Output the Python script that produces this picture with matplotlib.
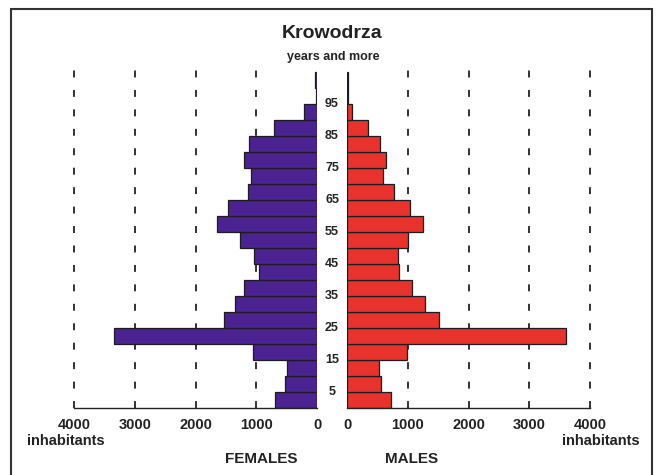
import matplotlib
matplotlib.use("Agg")
import matplotlib.pyplot as plt
import matplotlib.transforms as mtransforms
from matplotlib.patches import Rectangle

plt.rcParams['font.family'] = ['Liberation Sans', 'DejaVu Sans']
plt.rcParams['lines.scale_dashes'] = False

# age groups: lower bound of each 5-year bin (100 = "100 years and more")
age_start = [0, 5, 10, 15, 20, 25, 30, 35, 40, 45, 50, 55, 60, 65, 70, 75, 80, 85, 90, 95, 100]
females = [697, 522, 499, 1053, 3342, 1536, 1355, 1207, 960, 1032, 1267, 1646, 1470, 1136, 1081, 1207, 1119, 713, 210, 15, 25]
males = [718, 553, 520, 988, 3600, 1515, 1279, 1076, 862, 846, 1010, 1251, 1037, 778, 597, 634, 535, 345, 88, 10, 15]
age_labels = [5, 15, 25, 35, 45, 55, 65, 75, 85, 95]
x_ticks = [0, 1000, 2000, 3000, 4000]

W, H = 660, 475
fig = plt.figure(figsize=(W / 100, H / 100), dpi=100)

purple = '#4a2390'
red = '#e8322c'
edge = '#1e1a24'
txt = '#222222'

y_top = 106
ax_l = fig.add_axes([74 / W, 1 - 408 / H, 243 / W, (408 - 69) / H])
ax_r = fig.add_axes([347 / W, 1 - 408 / H, 243 / W, (408 - 69) / H])

for ax, vals, col in [(ax_l, females, purple), (ax_r, males, red)]:
    for g in [1000, 2000, 3000, 4000]:
        ax.axvline(g, color='#222222', lw=1.3, dashes=(5, 9), zorder=0, clip_on=False)
    ax.barh(age_start, vals, height=5, align='edge', color=col,
            edgecolor=edge, linewidth=0.9, zorder=2)
    ax.set_ylim(0, y_top)
    ax.set_xlim(0, 4000)
    ax.set_yticks([])
    ax.set_xticks(x_ticks)
    ax.set_xticklabels([str(t) for t in x_ticks], fontsize=10.5, fontweight='bold', color=txt)
    ax.tick_params(axis='x', length=0, pad=7)
    for s in ['left', 'right', 'top']:
        ax.spines[s].set_visible(False)
    ax.spines['bottom'].set_linewidth(1.0)
    ax.spines['bottom'].set_color('#222222')

ax_l.invert_xaxis()

# age labels between the two halves
trans = mtransforms.blended_transform_factory(fig.transFigure, ax_l.transData)
for a in age_labels:
    fig.text(332 / W, a, str(a), transform=trans, ha='center', va='center',
             fontsize=9, fontweight='bold', color=txt)

fig.text(332 / W, 1 - 33 / H, 'Krowodrza', ha='center', va='center',
         fontsize=14, fontweight='bold', color=txt)
fig.text(333 / W, 1 - 57 / H, 'years and more', ha='center', va='center',
         fontsize=9, fontweight='bold', color=txt)

fig.text(66 / W, 1 - 441 / H, 'inhabitants', ha='center', va='center',
         fontsize=10.5, fontweight='bold', color=txt)
fig.text(601 / W, 1 - 441 / H, 'inhabitants', ha='center', va='center',
         fontsize=10.5, fontweight='bold', color=txt)
fig.text(261 / W, 1 - 459 / H, 'FEMALES', ha='center', va='center',
         fontsize=11, fontweight='bold', color=txt)
fig.text(412 / W, 1 - 459 / H, 'MALES', ha='center', va='center',
         fontsize=11, fontweight='bold', color=txt)

# frame round the chart
frame = Rectangle((11 / W, -0.02), 641 / W, 1.02 - 9 / H, transform=fig.transFigure,
                  fill=False, edgecolor='#333333', linewidth=1.5)
fig.patches.append(frame)

fig.savefig('out.png', dpi=100)
